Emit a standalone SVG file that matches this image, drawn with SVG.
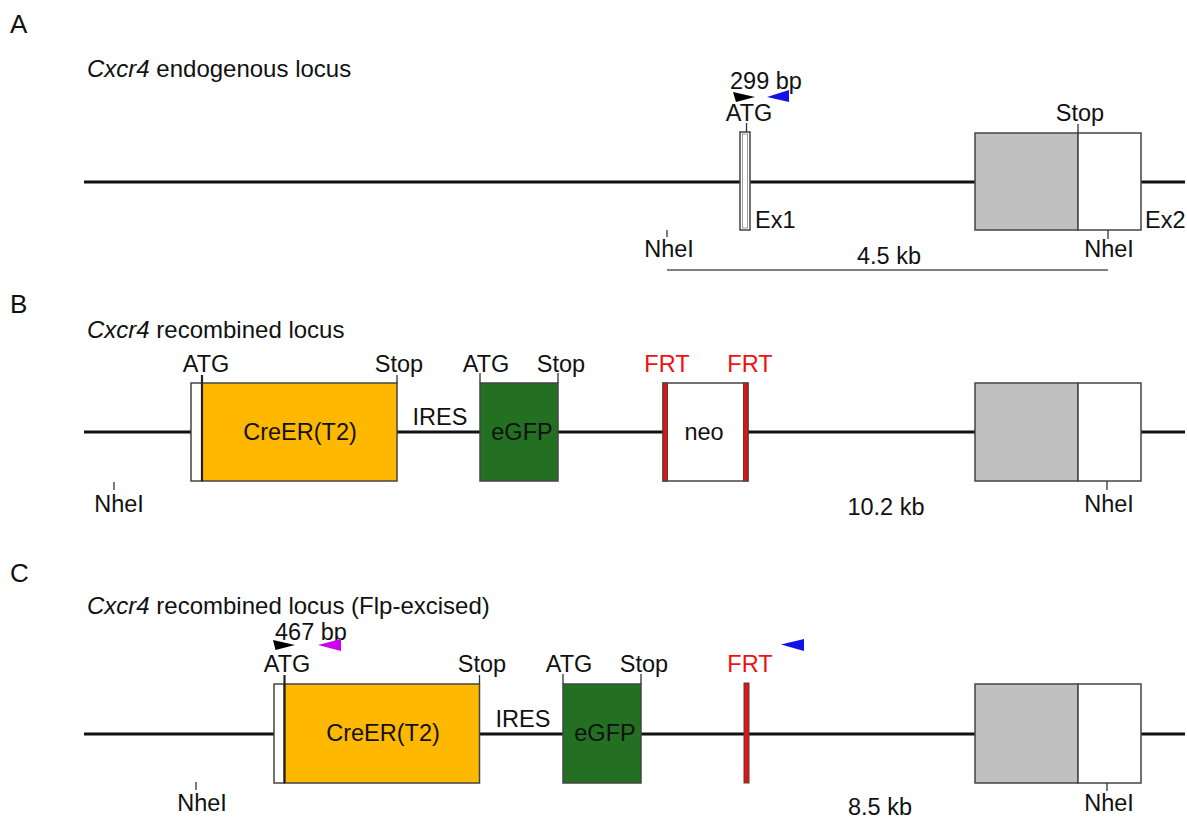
<svg xmlns="http://www.w3.org/2000/svg" width="1187" height="818" viewBox="0 0 1187 818">
<style>
text{font-family:"Liberation Sans",Arial,sans-serif;fill:#111;font-size:23.5px}
.head{font-size:24px}
.panel{font-size:26px}
.c{text-anchor:middle}
.red{fill:#ee1111}
.it{font-style:italic}
.main{stroke:#111;stroke-width:3;fill:none}
.tick{stroke:#333;stroke-width:1.3;fill:none}
.box{stroke:#444;stroke-width:1.5}
.white{fill:#fff}
.gray{fill:#c0c0c0}
.orange{fill:#ffb800}
.green{fill:#237023}
.frt{fill:#e81010;stroke:#444;stroke-width:1}
.scale{stroke:#555;stroke-width:1.6;fill:none}
</style>
<rect width="1187" height="818" fill="#fff"/>

<!-- Panel A -->
<text class="panel" x="10" y="33">A</text>
<text class="head" x="87" y="77"><tspan class="it">Cxcr4</tspan> endogenous locus</text>
<g id="connectors">
<line class="main" x1="84" y1="182" x2="1185" y2="182"/>
<line class="main" x1="84" y1="432" x2="1185" y2="432"/>
<line class="main" x1="84" y1="734" x2="1185" y2="734"/>
<line class="scale" x1="667" y1="270" x2="1108" y2="270"/>
</g>
<g id="A-ex1">
<line class="tick" x1="746.5" y1="123" x2="746.5" y2="132"/>
<rect class="box white" x="740" y="132" width="10" height="98"/>
<rect x="742.5" y="134" width="5" height="94" fill="#fff" stroke="#888" stroke-width="0.8"/>
<text class="c" x="749" y="121">ATG</text>
<text x="755" y="228">Ex1</text>
</g>
<g id="A-primers">
<text x="730" y="89">299 bp</text>
<polygon points="733,92 755,97 736,102" fill="#000"/>
<polygon points="767,97 789,90 789,102" fill="#1212e6"/>
</g>
<g id="A-ex2">
<rect class="box gray" x="975" y="133" width="103" height="97"/>
<rect class="box white" x="1078" y="133" width="63" height="97"/>
<line class="tick" x1="1078" y1="124" x2="1078" y2="133"/>
<text class="c" x="1080" y="121">Stop</text>
<text x="1145" y="228">Ex2</text>
</g>
<g id="A-nhe">
<line class="tick" x1="667" y1="230" x2="667" y2="237"/>
<text class="c" x="669" y="257">NheI</text>
<line class="tick" x1="1108" y1="230" x2="1108" y2="239"/>
<text class="c" x="1109" y="257">NheI</text>
<text class="c" x="889" y="264">4.5 kb</text>
</g>

<!-- Panel B -->
<text class="panel" x="10" y="313">B</text>
<text class="head" x="87" y="338"><tspan class="it">Cxcr4</tspan> recombined locus</text>
<g id="B-cre">
<rect class="box white" x="191" y="383" width="11" height="98"/>
<rect class="box orange" x="202" y="383" width="195" height="98"/>
<line stroke="#222" stroke-width="2.2" x1="202" y1="375" x2="202" y2="481"/>
<line class="tick" x1="397" y1="375" x2="397" y2="383"/>
<text class="c" x="206" y="372">ATG</text>
<text class="c" x="399" y="372">Stop</text>
<text class="c" x="300" y="440">CreER(T2)</text>
</g>
<text class="c" x="440" y="425">IRES</text>
<g id="B-egfp">
<rect class="box green" x="480" y="383" width="78" height="98"/>
<line class="tick" x1="480" y1="373" x2="480" y2="383"/>
<line class="tick" x1="558" y1="373" x2="558" y2="383"/>
<text class="c" x="486" y="372">ATG</text>
<text class="c" x="561" y="372">Stop</text>
<text class="c" x="522" y="440">eGFP</text>
</g>
<g id="B-neo">
<rect class="box white" x="663" y="383" width="85" height="98"/>
<rect class="frt" x="663" y="383" width="4.5" height="98"/>
<rect class="frt" x="743.5" y="383" width="4.5" height="98"/>
<text class="c red" x="667" y="372">FRT</text>
<text class="c red" x="750" y="372">FRT</text>
<text class="c" x="704" y="440">neo</text>
</g>
<g id="B-ex2">
<rect class="box gray" x="975" y="383" width="103" height="98"/>
<rect class="box white" x="1078" y="383" width="63" height="98"/>
</g>
<g id="B-nhe">
<line class="tick" x1="114" y1="482" x2="114" y2="490"/>
<text class="c" x="119" y="512">NheI</text>
<line class="tick" x1="1107" y1="481" x2="1107" y2="490"/>
<text class="c" x="1109" y="512">NheI</text>
<text class="c" x="886" y="515">10.2 kb</text>
</g>

<!-- Panel C -->
<text class="panel" x="10" y="582">C</text>
<text class="head" x="87" y="614"><tspan class="it">Cxcr4</tspan> recombined locus (Flp-excised)</text>
<g id="C-primers">
<text x="275" y="640">467 bp</text>
<polygon points="273,640 295,645 275.5,650" fill="#000"/>
<polygon points="318,645 341,639 341,651" fill="#cc00ee"/>
<polygon points="781,644.5 804,639 804,651" fill="#1212e6"/>
</g>
<g id="C-cre">
<rect class="box white" x="274" y="684" width="10.5" height="99"/>
<rect class="box orange" x="284.5" y="684" width="195" height="99"/>
<line stroke="#222" stroke-width="2.2" x1="284.5" y1="675" x2="284.5" y2="783"/>
<line class="tick" x1="479.5" y1="675" x2="479.5" y2="684"/>
<text class="c" x="287" y="672">ATG</text>
<text class="c" x="482" y="672">Stop</text>
<text class="c" x="383" y="741">CreER(T2)</text>
</g>
<text class="c" x="523" y="727">IRES</text>
<g id="C-egfp">
<rect class="box green" x="563" y="684" width="78" height="99"/>
<line class="tick" x1="563" y1="674" x2="563" y2="684"/>
<line class="tick" x1="641" y1="674" x2="641" y2="684"/>
<text class="c" x="569" y="672">ATG</text>
<text class="c" x="644" y="672">Stop</text>
<text class="c" x="605" y="741">eGFP</text>
</g>
<g id="C-frt">
<rect class="frt" x="744" y="683" width="5" height="100"/>
<text class="c red" x="750" y="672">FRT</text>
</g>
<g id="C-ex2">
<rect class="box gray" x="975" y="684" width="103" height="99"/>
<rect class="box white" x="1078" y="684" width="63" height="99"/>
</g>
<g id="C-nhe">
<line class="tick" x1="196" y1="782" x2="196" y2="790"/>
<text class="c" x="202" y="811">NheI</text>
<line class="tick" x1="1107" y1="783" x2="1107" y2="791"/>
<text class="c" x="1109" y="811">NheI</text>
<text class="c" x="880" y="815">8.5 kb</text>
</g>
</svg>
